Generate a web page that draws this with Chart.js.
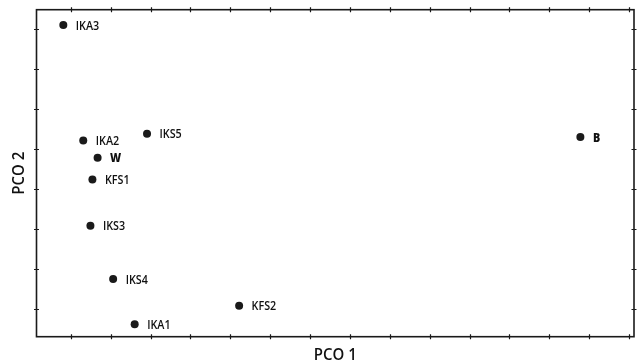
<!DOCTYPE html>
<html>
<head>
<meta charset="utf-8">
<style>
  html, body { margin: 0; padding: 0; background: #ffffff; }
  #wrap { width: 638px; height: 363px; }
</style>
<script src="https://cdn.jsdelivr.net/npm/chart.js@4/dist/chart.umd.min.js"></script>
</head>
<body>
<div id="wrap"><canvas id="c" width="638" height="363"></canvas></div>
<script>
const labels  = ["IKA3", "IKA2", "IKS5", "W", "KFS1", "IKS3", "IKS4", "KFS2", "IKA1", "B"];
const pco1    = [-0.19, 0.31, 1.91, 0.67, 0.54, 0.49, 1.06, 4.22, 1.60, 12.78];
const pco2    = [7.10, 4.21, 4.38, 3.78, 3.24, 2.08, 0.75, 0.08, -0.38, 4.30];
const boldLabels = ["W", "B"];
const xTicks = [0,1,2,3,4,5,6,7,8,9,10,11,12,13,14];
const yTicks = [0,1,2,3,4,5,6,7];
const xTitle = "PCO 1";
const yTitle = "PCO 2";

const points = labels.map((l, i) => ({ x: pco1[i], y: pco2[i], label: l }));

function condensedText(ctx, text, x, y, sx) {
  ctx.save();
  ctx.translate(x, y);
  ctx.scale(sx, 1);
  ctx.fillText(text, 0, 0);
  ctx.restore();
}

const framePlugin = {
  id: 'frame',
  afterDraw(chart) {
    const ctx = chart.ctx;
    const a = chart.chartArea;
    const xs = chart.scales.x, ys = chart.scales.y;
    ctx.save();
    ctx.strokeStyle = '#1a1a1a';
    ctx.lineWidth = 1.6;
    ctx.strokeRect(a.left, a.top, a.right - a.left, a.bottom - a.top);
    ctx.lineWidth = 1.2;
    ctx.beginPath();
    xTicks.forEach(v => {
      const px = Math.round(xs.getPixelForValue(v)) + 0.5;
      ctx.moveTo(px, a.top - 2.5); ctx.lineTo(px, a.top + 2.5);
      ctx.moveTo(px, a.bottom - 2.5); ctx.lineTo(px, a.bottom + 2.5);
    });
    yTicks.forEach(v => {
      const py = Math.round(ys.getPixelForValue(v)) + 0.5;
      ctx.moveTo(a.left - 2.5, py); ctx.lineTo(a.left + 2.5, py);
      ctx.moveTo(a.right - 2.5, py); ctx.lineTo(a.right + 2.5, py);
    });
    ctx.stroke();

    // point labels
    ctx.fillStyle = '#111111';
    ctx.textBaseline = 'middle';
    ctx.textAlign = 'left';
    points.forEach(p => {
      const px = xs.getPixelForValue(p.x), py = ys.getPixelForValue(p.y);
      const bold = boldLabels.includes(p.label);
      ctx.font = (bold ? '800 ' : '600 ') + '12.5px "Open Sans", sans-serif';
      condensedText(ctx, p.label, px + 12.5, py + 1, 0.86);
    });

    // axis titles
    ctx.font = '600 17px "Open Sans", sans-serif';
    ctx.textAlign = 'center';
    ctx.textBaseline = 'alphabetic';
    condensedText(ctx, xTitle, (a.left + a.right) / 2, 360, 0.88);
    ctx.save();
    ctx.translate(24, (a.top + a.bottom) / 2);
    ctx.rotate(-Math.PI / 2);
    condensedText(ctx, yTitle, 0, 0, 0.88);
    ctx.restore();
    ctx.restore();
  }
};

new Chart(document.getElementById('c'), {
  type: 'scatter',
  data: {
    datasets: [{
      data: points,
      backgroundColor: '#1a1a1a',
      borderColor: '#1a1a1a',
      pointRadius: 4,
      pointHoverRadius: 4,
      borderWidth: 0
    }]
  },
  options: {
    responsive: false,
    animation: false,
    devicePixelRatio: 1,
    layout: { padding: { left: 36.5, top: 9.7, right: 2, bottom: 26.3 } },
    plugins: { legend: { display: false }, tooltip: { enabled: false } },
    scales: {
      x: { type: 'linear', display: false, min: -0.8625, max: 14.125 },
      y: { type: 'linear', display: false, min: -0.6925, max: 7.4825 }
    }
  },
  plugins: [framePlugin]
});
</script>
</body>
</html>
